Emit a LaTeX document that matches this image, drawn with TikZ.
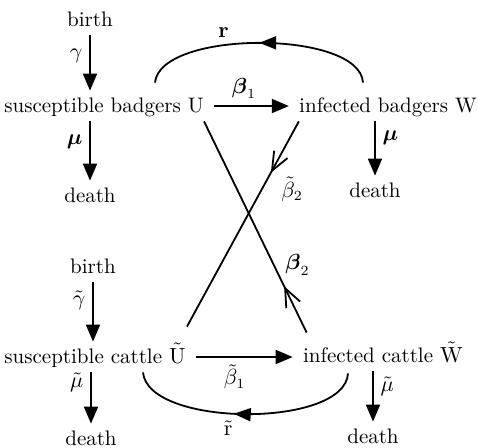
\documentclass[tikz,border=0pt]{standalone}
\usepackage{amsmath, amssymb}
\usetikzlibrary{arrows.meta, decorations.markings}

\begin{document}
\begin{tikzpicture}[
  x=0.5pt, y=-0.5pt,
  font=\fontsize{10.5}{12.5}\selectfont,
  >={Triangle[length=8.5pt, width=7pt]},
  lbl/.style={anchor=base, inner xsep=5pt, inner ysep=3pt,
              text height=7.5pt, text depth=1.5pt},
  arr/.style={->, line width=0.9pt},
  link/.style={line width=0.9pt},
  tipat/.style={postaction={decorate}, decoration={markings,
      mark=at position #1 with {\arrow{Triangle[length=8.5pt, width=6.5pt]}}}},
  barbat/.style={postaction={decorate}, decoration={markings,
      mark=at position #1 with {\arrow{Straight Barb[angle=45:10pt, line width=0.9pt]}}}},
  ]
\useasboundingbox (0,0) rectangle (478,447);

\node[lbl] (birthB) at (90,26) {birth};
\node[lbl] (suscB) at (104,112) {susceptible badgers U};
\node[lbl] (deathB) at (90,202) {death};
\node[lbl] (infB) at (388,112) {infected badgers W};
\node[lbl] (deathW) at (375,197) {death};

\node[lbl] (birthC) at (93,273) {birth};
\node[lbl] (suscC) at (95,363) {susceptible cattle $\tilde{\mathrm{U}}$};
\node[lbl] (deathC) at (91,445) {death};
\node[lbl] (infC) at (383,362) {infected cattle $\tilde{\mathrm{W}}$};
\node[lbl] (deathWc) at (373,443) {death};

\draw[arr] (birthB.south) -- node[left, pos=0.38] {$\gamma$} (birthB.south |- suscB.north);
\draw[arr] (deathB |- suscB.south) -- node[left, pos=0.34] {$\boldsymbol{\mu}$} (deathB.north);
\draw[arr] (deathW |- infB.south) -- node[right, pos=0.3] {$\boldsymbol{\mu}$} (deathW.north);
\draw[arr] (suscB) -- node[above, pos=0.4] {$\boldsymbol{\beta}_1$} (infB);

\draw[arr] (birthC.south) -- node[left, pos=0.3] {$\tilde{\gamma}$} (birthC.south |- suscC.north);
\draw[arr] (deathC |- suscC.south) -- node[left, pos=0.2] {$\tilde{\mu}$} (deathC.north);
\draw[arr] (deathWc |- infC.south) -- node[right, pos=0.3] {$\tilde{\mu}$} (deathWc.north);
\draw[arr] (suscC.east) -- node[below, pos=0.4] {$\tilde{\beta}_1$} (suscC.east -| infC.west);

\draw[link, tipat=0.5] ([xshift=-12.5pt, yshift=4pt]infB.north)
  .. controls +(-3,-53) and +(5,-53) .. node[pos=0.62, above] {$\mathbf{r}$}
  ([xshift=25.5pt, yshift=4pt]suscB.north);
\draw[link, tipat=0.55] ([xshift=-17.5pt, yshift=-1pt]infC.south)
  .. controls +(-3,55) and +(5,55) .. node[pos=0.56, below] {$\tilde{\mathrm{r}}$}
  ([xshift=24pt]suscC.south);

\draw[link, barbat=0.25] ([xshift=5pt]infB.south west)
  -- node[right, pos=0.33, xshift=6pt] {$\tilde{\beta}_2$} ([xshift=-4.5pt, yshift=7.5pt]suscC.north east);
\draw[link, barbat=0.22] ([xshift=7pt, yshift=4pt]infC.north west)
  -- node[right, pos=0.32, xshift=2pt] {$\boldsymbol{\beta}_2$} ([xshift=-5pt]suscB.south east);
\end{tikzpicture}
\end{document}
